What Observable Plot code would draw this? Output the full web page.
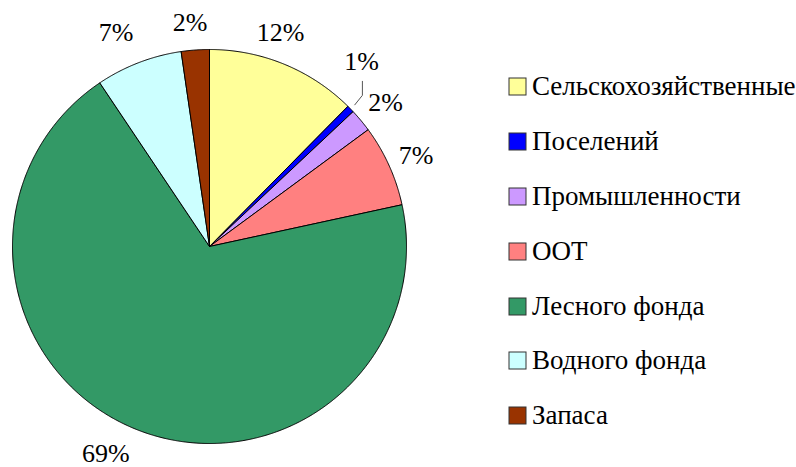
<!DOCTYPE html>
<html><head><meta charset="utf-8">
<script src="https://cdn.jsdelivr.net/npm/d3@7"></script>
<script src="https://cdn.jsdelivr.net/npm/@observablehq/plot@0.6"></script>
<style>
html,body{margin:0;padding:0;background:#fff;overflow:hidden}
#wrap{position:relative;width:796px;height:467px}
#chart{position:absolute;left:0;top:0}
#legend{position:absolute;left:509px;top:59px;width:320px}
#legend, #legend *{font-family:"Liberation Serif","Times New Roman",serif !important;}
#legend > div{font-size:27px !important;color:#000;margin:0}
#legend div[class$="-swatch"]{height:54.9px;padding-bottom:0}
#legend svg{margin-right:6px}
#legend rect{stroke:#333;stroke-width:1}
#legend div[class$="-swatch-label"]{overflow:visible}
</style></head><body>
<div id="wrap"><div id="chart"></div><div id="legend"></div></div>
<script>
// ---- data ----
const categories = ["Сельскохозяйственные","Поселений","Промышленности","ООТ","Лесного фонда","Водного фонда","Запаса"];
const values = [12.4, 0.6, 1.9, 6.7, 69.0, 7.1, 2.3];
const labels = ["12%","1%","2%","7%","69%","7%","2%"];
const colors = ["#FFFF99","#0000FF","#CC99FF","#FF8080","#339966","#CCFFFF","#993300"];

// ---- layout ----
const PX = 197;             // pixels per data unit (pie radius)
const LABEL_R = 1.15;
const labelNudge = [[-15,-4],[-10,-27],[2,1],[0,2],[-19,-3],[-12,-2],[-3,2]]; // pixels

const total = d3.sum(values);
let acc = 0;
const slices = categories.map((c, i) => {
  const a0 = acc / total * 2 * Math.PI; acc += values[i];
  const a1 = acc / total * 2 * Math.PI;
  const m = (a0 + a1) / 2;
  const [nx, ny] = labelNudge[i];
  return {c, i, a0, a1, m, label: labels[i],
    lx: Math.sin(m) * LABEL_R + nx / PX,
    ly: Math.cos(m) * LABEL_R - ny / PX};
});

const poly = [];
for (const s of slices) {
  poly.push({c: s.c, x: 0, y: 0});
  const n = Math.max(2, Math.ceil((s.a1 - s.a0) / 0.005));
  for (let k = 0; k <= n; k++) {
    const a = s.a0 + (s.a1 - s.a0) * k / n;
    poly.push({c: s.c, x: Math.sin(a), y: Math.cos(a)});
  }
  poly.push({c: s.c, x: 0, y: 0});
}

// leader line for the tiny "Поселений" slice
const b = slices[1];
const leader = [
  {x: b.lx + 0.7 / PX, y: b.ly - 20 / PX},
  {x: b.lx + 0.7 / PX, y: b.ly - 34 / PX},
  {x: Math.sin(b.m) * 1.03, y: Math.cos(b.m) * 1.03}
];

const colorScale = {type: "ordinal", domain: categories, range: colors};

const chart = Plot.plot({
  width: 796, height: 467,
  marginLeft: 12, marginRight: 390, marginTop: 49, marginBottom: 24,
  x: {domain: [-1, 1], axis: null},
  y: {domain: [-1, 1], axis: null},
  color: colorScale,
  style: {fontFamily: "'Liberation Serif','Times New Roman',serif", background: "transparent", overflow: "visible"},
  marks: [
    Plot.line(poly, {x: "x", y: "y", z: "c", fill: "c", stroke: "#000", strokeWidth: 1, strokeLinejoin: "round"}),
    Plot.line(leader, {x: "x", y: "y", stroke: "#555", strokeWidth: 1}),
    Plot.text(slices, {x: "lx", y: "ly", text: "label", fontSize: 26, fill: "#000", textAnchor: "middle", lineAnchor: "middle"})
  ]
});
document.getElementById("chart").appendChild(chart);

const legend = Plot.legend({color: colorScale, legend: "swatches", columns: 1, swatchSize: 17,
  style: {fontFamily: "'Liberation Serif','Times New Roman',serif", fontSize: "27px", color: "#000"}});
document.getElementById("legend").appendChild(legend);
</script>
</body></html>
